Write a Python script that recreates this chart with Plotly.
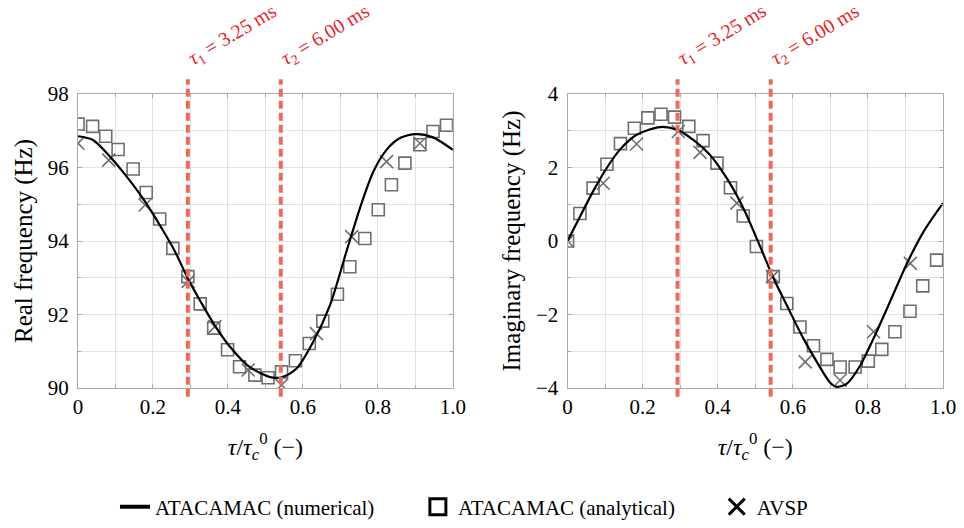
import plotly.graph_objects as go

# ---------------- data ----------------
tau1 = 0.293   # tau_1 = 3.25 ms
tau2 = 0.541   # tau_2 = 6.00 ms
tau_labels = ["<i>τ</i><sub>1</sub> = 3.25 ms", "<i>τ</i><sub>2</sub> = 6.00 ms"]

# left panel: real frequency (Hz)
re_num_x = [0.0, 0.04, 0.085, 0.13, 0.179, 0.22, 0.259, 0.293, 0.33, 0.365, 0.405, 0.454,
            0.503, 0.52, 0.545, 0.583, 0.627, 0.672, 0.716, 0.752, 0.788, 0.823, 0.859,
            0.903, 0.947, 1.0]
re_num_y = [96.85, 96.75, 96.3, 95.75, 95.07, 94.4, 93.71, 92.98, 92.3, 91.7, 91.13, 90.6,
            90.33, 90.28, 90.3, 90.53, 91.25, 92.25, 93.71, 94.89, 95.89, 96.48, 96.8,
            96.91, 96.82, 96.48]

re_ana_x = [0.0, 0.039, 0.074, 0.107, 0.147, 0.182, 0.218, 0.253, 0.293, 0.326, 0.362,
            0.399, 0.431, 0.472, 0.507, 0.543, 0.580, 0.617, 0.653, 0.692, 0.725, 0.765,
            0.801, 0.836, 0.872, 0.912, 0.947, 0.983]
re_ana_y = [97.18, 97.12, 96.85, 96.49, 95.96, 95.32, 94.6, 93.8, 93.03, 92.29, 91.63,
            91.04, 90.58, 90.35, 90.28, 90.44, 90.74, 91.21, 91.82, 92.55, 93.3, 94.07,
            94.85, 95.53, 96.12, 96.62, 96.98, 97.15]

re_avsp_x = [0.0, 0.082, 0.179, 0.294, 0.365, 0.454, 0.543, 0.636, 0.73, 0.823, 0.912]
re_avsp_y = [96.66, 96.2, 94.98, 92.9, 91.67, 90.49, 90.08, 91.48, 94.12, 96.16, 96.66]

# right panel: imaginary frequency (Hz)
im_num_x = [0.0, 0.033, 0.068, 0.104, 0.139, 0.184, 0.246, 0.291, 0.335, 0.379, 0.424,
            0.468, 0.513, 0.548, 0.584, 0.628, 0.664, 0.699, 0.717, 0.744, 0.78, 0.815,
            0.859, 0.904, 0.948, 1.0]
im_num_y = [0.0, 0.66, 1.35, 1.98, 2.48, 2.89, 3.1, 3.03, 2.75, 2.35, 1.71,
            0.9, -0.15, -1.0, -1.75, -2.65, -3.29, -3.85, -3.97, -3.88, -3.38, -2.65,
            -1.65, -0.61, 0.25, 1.03]

im_ana_x = [0.0, 0.033, 0.068, 0.105, 0.141, 0.178, 0.214, 0.249, 0.285, 0.323, 0.361,
            0.398, 0.434, 0.468, 0.503, 0.548, 0.584, 0.619, 0.655, 0.691, 0.726, 0.766,
            0.801, 0.837, 0.872, 0.912, 0.946, 0.983]
im_ana_y = [0.0, 0.75, 1.44, 2.09, 2.65, 3.07, 3.35, 3.45, 3.37, 3.12, 2.73,
            2.12, 1.45, 0.68, -0.15, -0.97, -1.7, -2.34, -2.85, -3.22, -3.43, -3.43,
            -3.27, -2.95, -2.47, -1.91, -1.22, -0.52]

im_avsp_x = [0.0, 0.095, 0.184, 0.295, 0.353, 0.451, 0.546, 0.633, 0.726, 0.815, 0.913]
im_avsp_y = [0.0, 1.57, 2.64, 2.98, 2.41, 1.03, -0.97, -3.29, -3.79, -2.47, -0.61]

legend_names = ["ATACAMAC (numerical)", "ATACAMAC (analytical)", "AVSP"]

re_ticks = [90, 92, 94, 96, 98]
im_ticks = [-4, -2, 0, 2, 4]
x_ticks = [0, 0.2, 0.4, 0.6, 0.8, 1.0]
x_ticktext = ["0", "0.2", "0.4", "0.6", "0.8", "1.0"]

# ---------------- styling ----------------
FONT = "Liberation Serif, Times New Roman, serif"
MARK = "#6e6e6e"
RED_LINE = "#ec6a5c"
RED_TEXT = "#e3262d"
GRID = "#e2e2e2"
FRAME = "#a8a8a8"

OFF = 8                      # default page body margin
W, H = 964 - OFF, 528 - OFF
L = 78 - OFF
T = 94 - OFF
R = W - (943.3 - OFF)
B = H - (388 - OFF)
pw = W - L - R
ph = H - T - B

def px_x(wx):                # window x -> paper x
    return (wx - OFF - L) / pw

def px_y(wy):                # window y -> paper y
    return (H - B - (wy - OFF)) / ph

fig = go.Figure()

panels = [
    ("x", "y", re_num_x, re_num_y, re_ana_x, re_ana_y, re_avsp_x, re_avsp_y),
    ("x2", "y2", im_num_x, im_num_y, im_ana_x, im_ana_y, im_avsp_x, im_avsp_y),
]
for xa, ya, nx, ny, ax_, ay_, vx, vy in panels:
    fig.add_trace(go.Scatter(x=ax_, y=ay_, mode="markers", xaxis=xa, yaxis=ya, showlegend=False,
                             marker=dict(symbol="square-open", size=12, color=MARK,
                                         line=dict(width=1.6, color=MARK))))
    fig.add_trace(go.Scatter(x=vx, y=vy, mode="markers", xaxis=xa, yaxis=ya, showlegend=False,
                             marker=dict(symbol="x-thin-open", size=13, color=MARK,
                                         line=dict(width=1.6, color=MARK))))
    fig.add_trace(go.Scatter(x=nx, y=ny, mode="lines", xaxis=xa, yaxis=ya, showlegend=False,
                             line=dict(color="black", width=2.2, shape="spline", smoothing=0.8)))

# legend-only entries (one legend each, so they can be spaced like the reference)
fig.add_trace(go.Scatter(x=[None], y=[None], mode="lines", name=legend_names[0], legend="legend",
                         line=dict(color="black", width=4)))
fig.add_trace(go.Scatter(x=[None], y=[None], mode="markers", name=legend_names[1], legend="legend2",
                         marker=dict(symbol="square-open", size=20, color="black",
                                     line=dict(width=3, color="black"))))
fig.add_trace(go.Scatter(x=[None], y=[None], mode="markers", name=legend_names[2], legend="legend3",
                         marker=dict(symbol="x-thin-open", size=20, color="black",
                                     line=dict(width=3, color="black"))))

# vertical dashed lines and rotated labels
for xr in ["x", "x2"]:
    for tv, lab in zip([tau1, tau2], tau_labels):
        fig.add_shape(type="line", xref=xr, yref=("y domain" if xr == "x" else "y2 domain"),
                      x0=tv, x1=tv, y0=-0.03, y1=1.05,
                      line=dict(color=RED_LINE, width=4, dash="8px,4px"))
        fig.add_annotation(xref=xr, yref="paper", x=tv, y=px_y(74), xshift=-7,
                           xanchor="left", yanchor="bottom", text=lab, showarrow=False,
                           textangle=-31, font=dict(family=FONT, size=20, color=RED_TEXT))

def xaxis(domain):
    return dict(domain=domain, range=[0, 1], tickmode="array", tickvals=x_ticks,
                ticktext=x_ticktext, showgrid=True, gridcolor=GRID, gridwidth=1,
                minor=dict(dtick=0.1, tick0=0, showgrid=True, gridcolor=GRID, ticks="inside",
                           ticklen=3, tickcolor=FRAME),
                zeroline=False, showline=True, linecolor=FRAME, linewidth=1, mirror="allticks",
                ticks="inside", ticklen=4, tickcolor=FRAME, automargin=False,
                tickfont=dict(family=FONT, size=21, color="black"),
                title=dict(text="<i>τ</i>/<i>τ</i><sub><i>c</i></sub><sup>0</sup> (−)",
                           font=dict(family=FONT, size=24, color="black"), standoff=19))

def yaxis(rng, ticks, title, anchor):
    return dict(range=rng, tickmode="array", tickvals=ticks, anchor=anchor,
                showgrid=True, gridcolor=GRID, gridwidth=1,
                minor=dict(dtick=1, showgrid=True, gridcolor=GRID, ticks="inside",
                           ticklen=3, tickcolor=FRAME),
                zeroline=False, showline=True, linecolor=FRAME, linewidth=1, mirror="allticks",
                ticks="inside", ticklen=4, tickcolor=FRAME, ticklabelstandoff=4, automargin=False,
                tickfont=dict(family=FONT, size=21, color="black"),
                title=dict(text=title, font=dict(family=FONT, size=25, color="black"), standoff=8))

def legend_at(wx):
    return dict(orientation="h", x=px_x(wx), xanchor="left", y=px_y(507), yanchor="middle",
                font=dict(family=FONT, size=21, color="black"), bgcolor="rgba(0,0,0,0)",
                itemwidth=30)

fig.update_layout(
    width=W, height=H,
    margin=dict(l=L, r=R, t=T, b=B, autoexpand=False),
    paper_bgcolor="white", plot_bgcolor="white",
    xaxis=xaxis([0, (453 - OFF - L) / pw]),
    xaxis2=dict(xaxis([(567.7 - OFF - L) / pw, 1]), anchor="y2"),
    yaxis=yaxis([90, 98], re_ticks, "Real frequency (Hz)", "x"),
    yaxis2=yaxis([-4, 4], im_ticks, "Imaginary frequency (Hz)", "x2"),
    legend=legend_at(115),
    legend2=legend_at(418),
    legend3=legend_at(717),
    showlegend=True,
)
fig.write_html("out.html")
